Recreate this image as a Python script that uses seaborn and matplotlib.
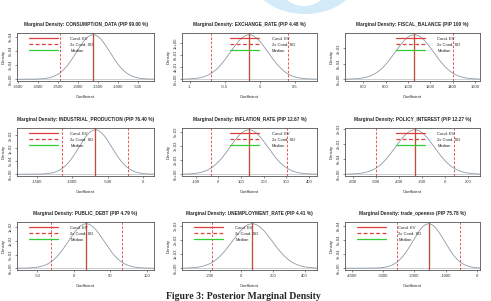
import numpy as np
import pandas as pd
import seaborn as sns
import matplotlib.pyplot as plt
from matplotlib.patches import Ellipse
from matplotlib.ticker import FuncFormatter

# values (BMS marginal densities)
titles = ['CONSUMPTION_DATA (PIP 99.00 %)', 'EXCHANGE_RATE (PIP 4.48 %)', 'FISCAL_BALANCE (PIP 100 %)',
          'INDUSTRIAL_PRODUCTION (PIP 76.40 %)', 'INFLATION_RATE (PIP 12.67 %)', 'POLICY_INTEREST (PIP 12.27 %)',
          'PUBLIC_DEBT (PIP 4.79 %)', 'UNEMPLOYMENT_RATE (PIP 4.41 %)', 'trade_openess (PIP 75.78 %)']
cond_ev = [-1625, -0.15, 1057, -676, 135, -265, 17, 69, -1540]
cond_sd = [420, 0.27, 173, 232, 84, 170, 24.5, 126, 510]
median = [-1625, -0.15, 1057, -676, 135, -265, 17, 69, -1540]
sd_lines = [[-2460], [-0.69, 0.40], [1403], [-1141, -212], [-32, 303], [-603, 78], [-32, 66], [-183], [-2567, -524]]
x_range = [(-3525, -108), (-1.11, 0.82), (436, 1645), (-1783, 151), (-160, 435),
           (-872, 301), (-78, 110), (-375, 478), (-4225, 107)]
x_ticks = [[-3500, -3000, -2500, -2000, -1500, -1000, -500], [-1.0, -0.5, 0.0, 0.5],
           [600, 800, 1000, 1200, 1400, 1600], [-1500, -1000, -500, 0], [-100, 0, 100, 200, 300, 400],
           [-800, -600, -400, -200, 0, 200], [-50, 0, 50, 100], [-200, 0, 200, 400],
           [-4000, -3000, -2000, -1000, 0]]
legend_x = [0.07, 0.34, 0.36, 0.07, 0.34, 0.36, 0.07, 0.07, 0.07]

sns.set_style("ticks")
plt.rcParams['font.family'] = ['Liberation Sans', 'DejaVu Sans']

fig = plt.figure(figsize=(4.91, 3.01), dpi=100)

# light blue swoosh at the top (page decoration)
fig.patches.append(Ellipse((305 / 491, 1 + 22 / 301), 104 / 491, 72 / 301, transform=fig.transFigure,
                           facecolor='#d3eaf9', edgecolor='none', zorder=0))
fig.patches.append(Ellipse((304 / 491, 1 + 20 / 301), 54 / 491, 52 / 301, transform=fig.transFigure,
                           facecolor='white', edgecolor='none', zorder=1))

lefts = [17, 182, 345]
widths = [137, 135, 135]
bottoms = [81, 176, 270]
h = 48

RED = '#e03c3c'
GREEN = '#33cc33'

def yfmt(v, pos):
    if v == 0:
        return '0e+00' if ymax_small else '0.0'
    return ('%.0e' % v) if ymax_small else ('%g' % v)

for i in range(9):
    r, c = divmod(i, 3)
    ax = fig.add_axes([lefts[c] / 491, 1 - bottoms[r] / 301, widths[c] / 491, h / 301])
    lo, hi = x_range[i]
    xs = np.linspace(lo, hi, 300)
    dens = np.exp(-0.5 * ((xs - cond_ev[i]) / cond_sd[i]) ** 2) / (cond_sd[i] * np.sqrt(2 * np.pi))
    df = pd.DataFrame({'Coefficient': xs, 'Density': dens})
    ax.axhline(0, color='#bbbbbb', lw=0.5)
    sns.lineplot(data=df, x='Coefficient', y='Density', ax=ax, color='#8d9aa6', lw=0.6)
    ax.axvline(median[i], color=GREEN, lw=0.9)
    ax.axvline(cond_ev[i], color=RED, lw=0.8)
    for s in sd_lines[i]:
        ax.axvline(s, color=RED, lw=0.6, ls=(0, (3, 2)))
    peak = dens.max()
    ax.set_xlim(lo, hi)
    ax.set_ylim(-0.04 * peak, 1.04 * peak)
    ax.set_xticks(x_ticks[i])
    ax.set_xticklabels([('%g' % t) for t in x_ticks[i]])
    ymax_small = peak < 0.01
    ax.yaxis.set_major_locator(plt.MaxNLocator(4))
    ax.yaxis.set_major_formatter(FuncFormatter(yfmt))
    ax.tick_params(labelsize=3, length=1.5, width=0.4, pad=1.5, colors='#333333')
    plt.setp(ax.get_yticklabels(), rotation=90, va='center')
    for sp in ax.spines.values():
        sp.set_visible(True)
        sp.set_linewidth(0.6)
        sp.set_color('#555555')
    ax.set_xlabel('Coefficient', fontsize=3, labelpad=4)
    ax.set_ylabel('Density', fontsize=3, labelpad=2)
    ax.set_title('Marginal Density: ' + titles[i], fontsize=3.4, fontweight='bold', pad=5)
    handles = [plt.Line2D([], [], color=RED, lw=0.9),
               plt.Line2D([], [], color=RED, lw=0.9, ls=(0, (3, 2))),
               plt.Line2D([], [], color=GREEN, lw=0.9)]
    ax.legend(handles, ['Cond. EV', '2x Cond. SD', 'Median'], loc='upper left',
              bbox_to_anchor=(legend_x[i], 0.97), frameon=False, fontsize=3,
              handlelength=7, handletextpad=3, labelspacing=0.5, borderpad=0)

fig.text(0.495, 9 / 301, 'Figure 3: Posterior Marginal Density', ha='center', va='top',
         fontsize=7, fontweight='bold', family='Liberation Serif')

fig.savefig('out.png', dpi=100)
